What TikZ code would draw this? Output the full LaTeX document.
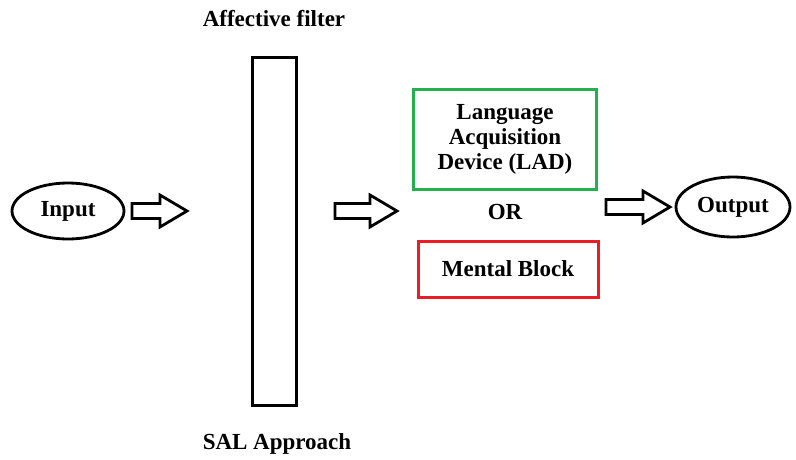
\documentclass[tikz,border=0pt]{standalone}
\usepackage{fontspec}
\setmainfont{Liberation Serif}
\usepackage{xcolor}
\usepackage{tikz}
\usetikzlibrary{shapes.geometric}
\definecolor{ladgreen}{HTML}{22B14C}
\definecolor{blockred}{HTML}{ED1C24}

\begin{document}
\begin{tikzpicture}[x=1pt, y=-1pt, line join=miter,
  lbl/.style={font=\bfseries\fontsize{23}{26}\selectfont, align=center, inner sep=0pt},
  oval/.style={draw, ellipse, line width=2.8pt, minimum width=112pt, minimum height=56pt, inner sep=0pt},
  thebox/.style={draw, line width=3pt, inner sep=0pt}]
  \useasboundingbox[fill=white] (0,0) rectangle (796,459);
  % input and output
  \node[oval, lbl] (input) at (68,211) {Input};
  \node[oval, lbl, minimum width=114pt, minimum height=60pt] (output) at (733,207) {Output};
  % affective filter
  \node[thebox, minimum width=44pt, minimum height=348pt] (filter) at (274,231) {};
  \node[lbl] (filtertxt) at (274,19) {Affective filter};
  \node[lbl] (saltxt) at (277,444) {SAL Approach};
  % the two outcomes
  \node[thebox, draw=ladgreen, minimum width=183pt, minimum height=100pt] (lad) at (505,139) {};
  \node[lbl] (ladtxt) at (lad) {Language\\[-1pt]Acquisition\\[-1pt]Device (LAD)};
  \node[lbl] (or) at (505,212) {OR};
  \node[thebox, draw=blockred, minimum width=180pt, minimum height=56pt] (block) at (508,269) {};
  \node[lbl] (blocktxt) at (block) {Mental Block};
  % block arrows
  \foreach \xa/\xb/\y in {132/187/211, 335/397/211, 606/670/207}{
    \draw[line width=2.8pt, fill=white]
      (\xa,\y-7.5) -- ({\xb-27},\y-7.5) -- ({\xb-27},\y-16) -- (\xb,\y)
      -- ({\xb-27},\y+16) -- ({\xb-27},\y+7.5) -- (\xa,\y+7.5) -- cycle;
  }
\end{tikzpicture}
\end{document}
